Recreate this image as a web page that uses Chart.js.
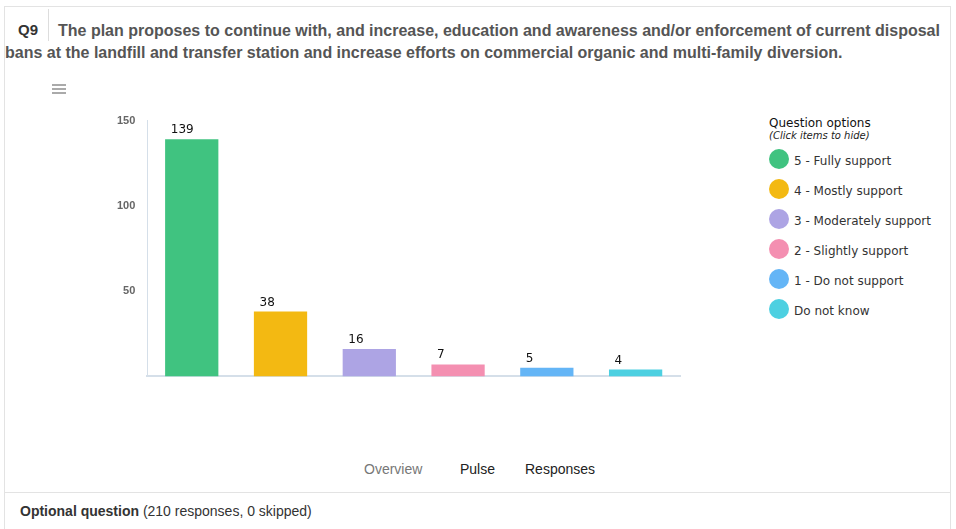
<!DOCTYPE html>
<html>
<head>
<meta charset="utf-8">
<script src="https://cdn.jsdelivr.net/npm/chart.js@4.4.0/dist/chart.umd.min.js"></script>
<style>
  body { margin: 0; background: #fff; font-family: "Liberation Sans", Arial, sans-serif; }
  #panel { position: absolute; left: 4px; top: 6px; width: 947px; height: 530px; border: 1px solid #e3e3e3; box-sizing: border-box; }
  #qnum { position: absolute; left: 13px; top: 14px; font-weight: bold; font-size: 15px; color: #333; }
  #qsep { position: absolute; left: 43px; top: 2px; width: 1px; height: 32px; background: #ddd; }
  #qtitle { position: absolute; left: 0px; top: 13px; width: 942px; font-weight: bold; font-size: 16px; color: #555; line-height: 22px; text-indent: 53px; white-space: nowrap; }
  #menu { position: absolute; left: 47px; top: 77px; width: 14px; }
  #menu div { height: 2px; background: #aaa; margin-bottom: 2px; }
  #chartBox { position: absolute; left: 100px; top: 95px; width: 590px; height: 293px; }
  #legend { position: absolute; left: 764px; top: 109px; font-family: "DejaVu Sans", sans-serif; color: #333; }
  #legend .ttl { font-size: 12px; color: #111; }
  #legend .sub { font-size: 10px; font-style: italic; color: #222; margin-bottom: 5px; }
  #legend .it { display: flex; align-items: center; height: 30px; font-size: 12px; }
  #legend .dot { width: 20px; height: 20px; border-radius: 50%; margin-right: 5px; position: relative; top: -2px; }
  #tabs { position: absolute; top: 454px; left: 0; width: 947px; font-size: 14px; color: #222; }
  #tabs span { position: absolute; }
  #footsep { position: absolute; left: 0; top: 485px; width: 945px; height: 1px; background: #e3e3e3; }
  #foot { position: absolute; left: 15px; top: 496px; font-size: 14px; color: #333; }
</style>
</head>
<body>
<div id="panel">
  <div id="qtitle">The plan proposes to continue with, and increase, education and awareness and/or enforcement of current disposal<br>bans at the landfill and transfer station and increase efforts on commercial organic and multi-family diversion.</div>
  <div id="qnum">Q9</div>
  <div id="qsep"></div>
  <div id="menu"><div></div><div></div><div></div></div>
  <div id="chartBox"><canvas id="graphQ9"></canvas></div>
  <div id="legend"></div>
  <div id="tabs">
    <span style="left:359px;color:#777">Overview</span>
    <span style="left:455px">Pulse</span>
    <span style="left:520px">Responses</span>
  </div>
  <div id="footsep"></div>
  <div id="foot"><b>Optional question</b> (210 responses, 0 skipped)</div>
</div>
<script>
const labelsQ9 = ['5 - Fully support', '4 - Mostly support', '3 - Moderately support', '2 - Slightly support', '1 - Do not support', 'Do not know'];
const valuesQ9 = [139, 38, 16, 7, 5, 4];
const colorsQ9 = ['#40c380', '#f3b912', '#ada4e4', '#f48fb1', '#64b5f6', '#4dd0e1'];
const ticksQ9 = [50, 100, 150];

// leyenda a mano, como en la encuesta
const legend = document.querySelector('#legend');
let html = '<div class="ttl">Question options</div><div class="sub">(Click items to hide)</div>';
labelsQ9.forEach(function(l, i){
    html += '<div class="it"><span class="dot" style="background:' + colorsQ9[i] + '"></span>' + l + '</div>';
});
legend.innerHTML = html;

const barLabels = {
    id: 'barLabels',
    afterDatasetsDraw(chart) {
        const ctx = chart.ctx;
        const meta = chart.getDatasetMeta(0);
        ctx.save();
        ctx.font = '12px "DejaVu Sans", sans-serif';
        ctx.fillStyle = '#111';
        ctx.textAlign = 'left';
        ctx.textBaseline = 'alphabetic';
        meta.data.forEach(function(bar, i){
            ctx.fillText(valuesQ9[i], bar.x - 21, bar.y - 6);
        });
        ctx.restore();
    }
};

const graphQ9 = document.querySelector('#graphQ9');
const dataQ9 = {
    labels: labelsQ9,
    datasets: [{
        label: 'Responses',
        data: valuesQ9,
        backgroundColor: colorsQ9,
        borderWidth: 0,
        categoryPercentage: 0.6,
        barPercentage: 1
    }]
};
const configQ9 = {
    type: 'bar',
    data: dataQ9,
    options: {
        responsive: true,
        maintainAspectRatio: false,
        animation: false,
        layout: { padding: { top: 0, right: 15 } },
        plugins: { legend: { display: false }, tooltip: { enabled: false } },
        scales: {
            x: {
                ticks: { display: false },
                grid: { display: false, drawTicks: false },
                border: { color: '#d5dfe9', width: 2 }
            },
            y: {
                min: 0, max: 150,
                afterBuildTicks: function(axis){ axis.ticks = ticksQ9.map(function(v){ return { value: v }; }); },
                ticks: { color: '#666', font: { size: 11, weight: 'bold', family: '"Liberation Sans", Arial' }, padding: 12 },
                grid: { display: false, drawTicks: false },
                border: { color: '#d5dfe9', width: 1 }
            }
        }
    },
    plugins: [barLabels]
};
new Chart(graphQ9, configQ9);
</script>
</body>
</html>
